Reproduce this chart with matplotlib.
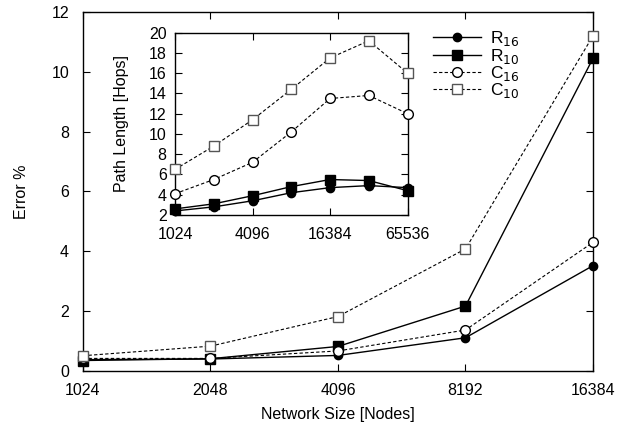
import numpy as np
import matplotlib
matplotlib.use('Agg')
import matplotlib.pyplot as plt

plt.rcParams['font.family'] = ['Liberation Sans', 'DejaVu Sans']
plt.rcParams['font.size'] = 11.5

# main plot: error vs network size
sizes = [1024, 2048, 4096, 8192, 16384]
err_r16 = [0.38, 0.40, 0.52, 1.11, 3.52]
err_r10 = [0.35, 0.41, 0.82, 2.17, 10.45]
err_c16 = [0.42, 0.42, 0.67, 1.37, 4.30]
err_c10 = [0.51, 0.83, 1.82, 4.08, 11.20]

# inset: path length vs network size
inset_sizes = [1024, 2048, 4096, 8192, 16384, 32768, 65536]
hops_r16 = [2.4, 2.8, 3.4, 4.2, 4.7, 4.9, 4.7]
hops_r10 = [2.6, 3.1, 3.9, 4.8, 5.5, 5.4, 4.4]
hops_c16 = [4.1, 5.5, 7.2, 10.2, 13.5, 13.8, 12.0]
hops_c10 = [6.5, 8.8, 11.4, 14.4, 17.5, 19.2, 16.0]

labels = ['R$_{16}$', 'R$_{10}$', 'C$_{16}$', 'C$_{10}$']

solid = dict(color='k', lw=1.0, ls='-')
dashed = dict(color='k', lw=0.8, ls=(0, (3, 2)))
styles = [
    dict(marker='o', ms=6, mfc='k', mec='k', **solid),
    dict(marker='s', ms=6.5, mfc='k', mec='k', **solid),
    dict(marker='o', ms=7, mfc='white', mec='k', **dashed),
    dict(marker='s', ms=7, mfc='white', mec='#555555', **dashed),
]


def style_axes(ax):
    ax.tick_params(direction='in', top=True, right=True, length=5, width=0.8)
    for s in ax.spines.values():
        s.set_linewidth(1.0)


fig = plt.figure(figsize=(6.32, 4.28), dpi=100)
ax = fig.add_axes([0.1313, 0.1332, 0.807, 0.839])

handles = []
for ys, st, lab in zip([err_r16, err_r10, err_c16, err_c10], styles, labels):
    h, = ax.plot(sizes, ys, label=lab, clip_on=False, zorder=3, **st)
    handles.append(h)

ax.set_xscale('log', base=2)
ax.set_xlim(1024, 16384)
ax.set_xticks(sizes)
ax.set_xticklabels([str(s) for s in sizes])
ax.minorticks_off()
ax.set_ylim(0, 12)
ax.set_yticks(np.arange(0, 13, 2))
ax.set_xlabel('Network Size [Nodes]', labelpad=6)
ax.set_ylabel('Error %', labelpad=16)
style_axes(ax)
ax.tick_params(axis='x', pad=9)
ax.tick_params(axis='y', pad=10)

ax.legend(handles=handles, loc='upper left', bbox_to_anchor=(0.655, 0.995),
          frameon=False, handlelength=2.8, handletextpad=0.5, labelspacing=-0.1,
          fontsize=12.5)

# inset
ins = fig.add_axes([0.2769, 0.4977, 0.368, 0.426])
for ys, st in zip([hops_r16, hops_r10, hops_c16, hops_c10], styles):
    ins.plot(inset_sizes, ys, clip_on=False, zorder=3, **st)
ins.set_xscale('log', base=2)
ins.set_xlim(1024, 65536)
ins.set_xticks([1024, 4096, 16384, 65536])
ins.set_xticklabels(['1024', '4096', '16384', '65536'])
ins.minorticks_off()
ins.set_ylim(2, 20)
ins.set_yticks(np.arange(2, 21, 2))
ins.set_ylabel('Path Length [Hops]', labelpad=14)
style_axes(ins)
ins.tick_params(axis='x', pad=9)
ins.tick_params(axis='y', pad=6)

fig.savefig('out.png', dpi=100)
